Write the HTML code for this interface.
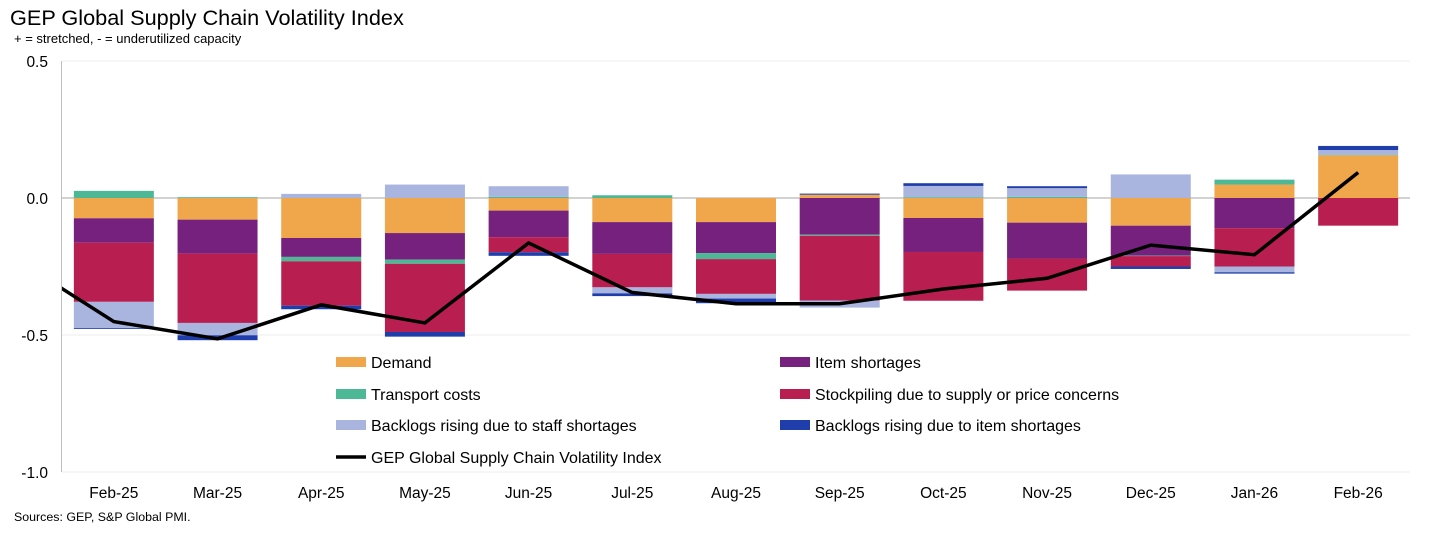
<!DOCTYPE html>
<html><head><meta charset="utf-8"><style>
body{margin:0;background:#fff;font-family:"Liberation Sans",sans-serif;}
svg text{font-family:"Liberation Sans",sans-serif;}
</style></head><body>
<svg id="c" width="1443" height="553">
<text x="10" y="25" font-size="21.7" fill="#000">GEP Global Supply Chain Volatility Index</text>
<text x="14" y="43" font-size="13" fill="#000">+ = stretched, - = underutilized capacity</text>
<text x="14" y="521" font-size="12.4" fill="#000">Sources: GEP, S&amp;P Global PMI.</text>
<g id="plot"></g>
</svg>
<script>
const categories=["Feb-25","Mar-25","Apr-25","May-25","Jun-25","Jul-25","Aug-25","Sep-25","Oct-25","Nov-25","Dec-25","Jan-26","Feb-26"];
const demand=[-0.074,-0.079,-0.146,-0.128,-0.046,-0.088,-0.088,0.012,-0.073,-0.09,-0.101,0.049,0.156];
const itemShortages=[-0.089,-0.124,-0.069,-0.097,-0.097,-0.116,-0.113,-0.134,-0.124,-0.131,-0.109,-0.11,0];
const transport=[0.026,0.003,-0.016,-0.015,0.004,0.01,-0.022,-0.004,0.003,0.004,-0.002,0.018,0.002];
const stockpiling=[-0.216,-0.253,-0.162,-0.249,-0.055,-0.122,-0.127,-0.236,-0.178,-0.117,-0.038,-0.14,-0.101];
const staffBacklogs=[-0.096,-0.045,0.015,0.049,0.039,-0.022,-0.017,-0.026,0.041,0.032,0.086,-0.021,0.017];
const itemBacklogs=[-0.003,-0.018,-0.013,-0.017,-0.013,-0.01,-0.017,0.004,0.01,0.007,-0.009,-0.005,0.015];
const indexValues=[-0.451,-0.514,-0.39,-0.456,-0.164,-0.345,-0.386,-0.386,-0.332,-0.293,-0.172,-0.207,0.093];
const priorIndex=-0.21;
const yTicks=[0.5,0,-0.5,-1.0];
const yTickLabels=["0.5","0.0","-0.5","-1.0"];

const NS="http://www.w3.org/2000/svg";
const g=document.getElementById('plot');
const L=62,R=1410,T=61,B=472,yMin=-1,yMax=0.5;
const step=(R-L)/categories.length;
const y=v=>B-(v-yMin)/(yMax-yMin)*(B-T);
const xc=i=>L+step*(i+0.5);
function mk(tag,at){const e=document.createElementNS(NS,tag);for(const k in at)e.setAttribute(k,at[k]);g.appendChild(e);return e;}
yTicks.forEach((t,i)=>{
  const ln=mk('line',{x1:L,x2:R,y1:y(t),y2:y(t),stroke:t===0?'#a6a6a6':'#eeeeee','stroke-width':1});
  
  
  const tx=mk('text',{x:48,y:y(t)+6,'font-size':15.5,'text-anchor':'end',fill:'#000'});
  tx.textContent=yTickLabels[i];
  
  
});
const ax=mk('line',{x1:L-0.5,x2:L-0.5,y1:T,y2:B,stroke:'#bfbfbf'});


const series=[
 ['demand',demand,'#F0A64A'],['item-shortages',itemShortages,'#76217D'],['transport-costs',transport,'#4DB895'],
 ['stockpiling',stockpiling,'#B81F50'],['staff-backlogs',staffBacklogs,'#A9B4DF'],['item-backlogs',itemBacklogs,'#1F3DAB']];
const bw=80;
categories.forEach((c,i)=>{
  let pos=0,neg=0;
  series.forEach(s=>{
    const v=s[1][i];
    let a,b;
    if(v>=0){a=pos;b=pos+v;pos=b;}else{a=neg;b=neg+v;neg=b;}
    const r=mk('rect',{x:xc(i)-bw/2,y:Math.min(y(a),y(b)),width:bw,height:Math.abs(y(a)-y(b)),fill:s[2]});
    
    
  });
  const tx=mk('text',{x:xc(i),y:498,'font-size':15.5,'text-anchor':'middle',fill:'#000'});
  tx.textContent=c;
  
  
});
let d='M'+xc(-1)+','+y(priorIndex);
indexValues.forEach((v,i)=>{d+=' L'+xc(i)+','+y(v);});
const clip=mk('clipPath',{id:'cp'});
const cp=document.createElementNS(NS,'rect');
cp.setAttribute('x',L);cp.setAttribute('y',T);cp.setAttribute('width',R-L);cp.setAttribute('height',B-T);
clip.appendChild(cp);
const line=mk('path',{d:d,fill:'none',stroke:'#000','stroke-width':3.5,'stroke-linejoin':'miter','clip-path':'url(#cp)'});


const leg=[['Demand','#F0A64A',336,362],['Item shortages','#76217D',780,362],['Transport costs','#4DB895',336,394],
 ['Stockpiling due to supply or price concerns','#B81F50',780,394],['Backlogs rising due to staff shortages','#A9B4DF',336,425],
 ['Backlogs rising due to item shortages','#1F3DAB',780,425]];
leg.forEach(l=>{
  const r=mk('rect',{x:l[2],y:l[3]-5,width:30,height:10,fill:l[1]});
  
  
  const t=mk('text',{x:l[2]+35,y:l[3]+6,'font-size':16,fill:'#000'});
  t.textContent=l[0];
  
  
});
const ll=mk('line',{x1:336,x2:366,y1:457,y2:457,stroke:'#000','stroke-width':3.5});


const lt=mk('text',{x:371,y:463,'font-size':16,fill:'#000'});
lt.textContent='GEP Global Supply Chain Volatility Index';


</script>
</body></html>
